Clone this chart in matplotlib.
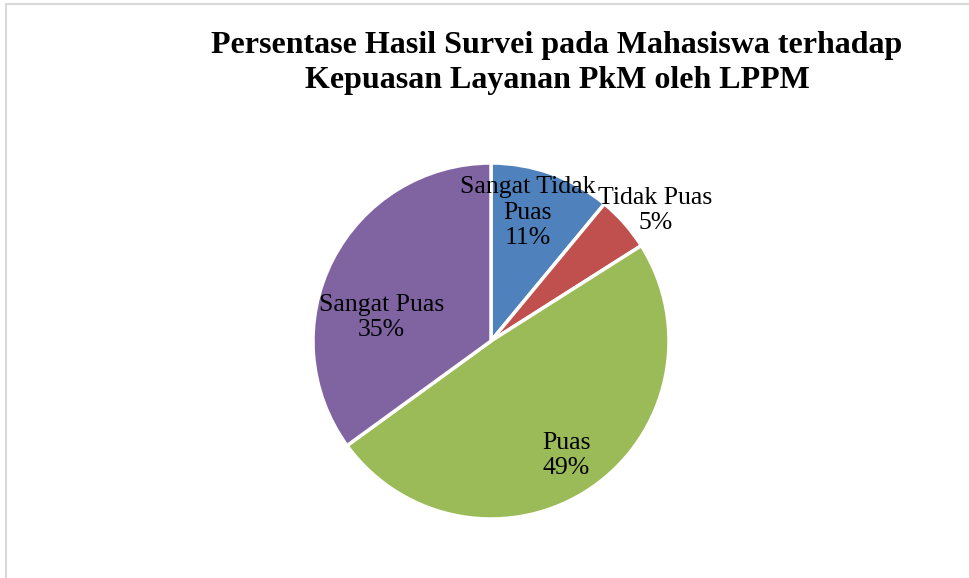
import matplotlib
matplotlib.use("Agg")
import matplotlib.pyplot as plt
import numpy as np

categories = ["Sangat Tidak\nPuas", "Tidak Puas", "Puas", "Sangat Puas"]
values = [11, 5, 49, 35]
colors = ["#4F81BD", "#C0504D", "#9BBB59", "#8064A2"]
title = "Persentase Hasil Survei pada Mahasiswa terhadap\nKepuasan Layanan PkM oleh LPPM"

# label placement (distance from centre in radii, angle offset in degrees)
label_dist = [0.75, 1.18, 0.77, 0.63]
label_angle_adj = [4, -3, -1, 15]

plt.rcParams['font.family'] = ['Liberation Serif', 'DejaVu Serif']

W, H = 969, 578
fig = plt.figure(figsize=(W / 100, H / 100), dpi=100)

# frame lines (left and top)
fig.add_artist(plt.Line2D([6 / W, 6 / W], [0, 1 - 4 / H], color="#D9D9D9", lw=1.5))
fig.add_artist(plt.Line2D([6 / W, 1], [1 - 4 / H, 1 - 4 / H], color="#D9D9D9", lw=1.5))

cx, cy, r = 491, 341, 178
ax = fig.add_axes([(cx - r) / W, (H - cy - r) / H, 2 * r / W, 2 * r / H])
wedges, _ = ax.pie(values, colors=colors, startangle=90, counterclock=False,
                   radius=1, wedgeprops=dict(edgecolor="white", linewidth=2.5))
ax.set_xlim(-1.0, 1.0)
ax.set_ylim(-1.0, 1.0)
ax.axis("off")

total = sum(values)
for w, cat, v, d, adj in zip(wedges, categories, values, label_dist, label_angle_adj):
    mid = np.deg2rad((w.theta1 + w.theta2) / 2 + adj)
    x, y = d * np.cos(mid), d * np.sin(mid)
    ax.text(x, y, f"{cat}\n{round(100 * v / total)}%", ha="center", va="center",
            fontsize=18.5, linespacing=1.2, clip_on=False)

fig.text(557 / W, 1 - 63 / H, title, ha="center", va="center", fontsize=23,
         fontweight="bold", linespacing=1.3)

fig.savefig("out.png", dpi=100, facecolor="white")
